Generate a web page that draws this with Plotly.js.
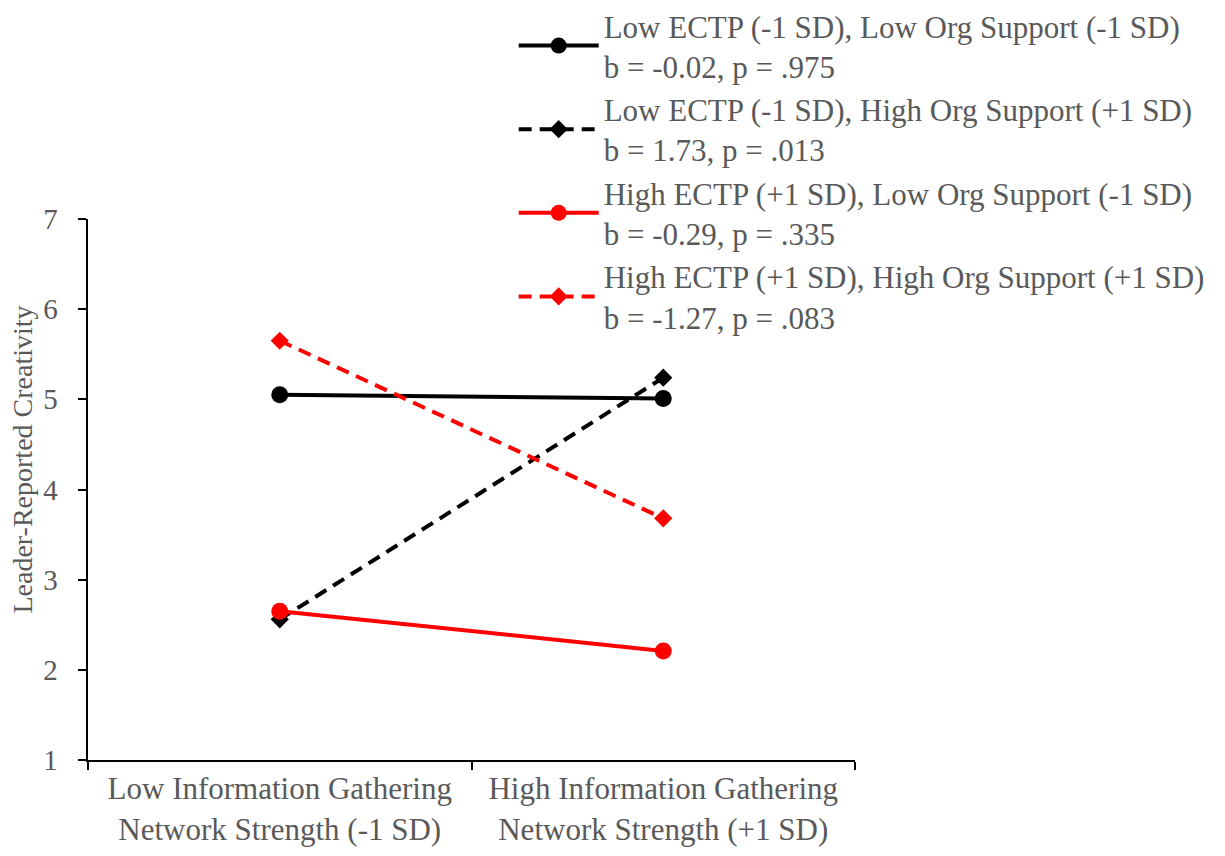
<!DOCTYPE html>
<html>
<head>
<meta charset="utf-8">
<script src="https://cdn.plot.ly/plotly-3.0.1.min.js"></script>
<style>
  html, body { margin: 0; padding: 0; background: #fff; }
  #chart { width: 1225px; height: 856px; }
</style>
</head>
<body>
<div id="chart"></div>
<script>
// Simple-slopes plot: creativity at low/high information-gathering network strength
const categories = [
  "Low Information Gathering<br>Network Strength (-1 SD)",
  "High Information Gathering<br>Network Strength (+1 SD)"
];

const lowEctpLowSupport = [5.05, 5.01];
const lowEctpHighSupport = [2.56, 5.24];
const highEctpLowSupport = [2.65, 2.21];
const highEctpHighSupport = [5.65, 3.68];

const seriesNames = [
  "Low ECTP (-1 SD), Low Org Support (-1 SD)<br>b = -0.02, p = .975",
  "Low ECTP (-1 SD), High Org Support (+1 SD)<br>b = 1.73, p = .013",
  "High ECTP (+1 SD), Low Org Support (-1 SD)<br>b = -0.29, p = .335",
  "High ECTP (+1 SD), High Org Support (+1 SD)<br>b = -1.27, p = .083"
];

const yTicks = [1, 2, 3, 4, 5, 6, 7];
const yTitle = "Leader-Reported Creativity";

const FONT = "Liberation Serif, Times New Roman, serif";
const GREY = "#595959";
const NBSP = "\u00a0";

function series(values, name, color, dashed) {
  return {
    type: "scatter",
    mode: "lines+markers",
    x: categories,
    y: values,
    name: name,
    line: { color: color, width: 4, dash: dashed ? "13px,8px" : "solid" },
    marker: {
      color: color,
      size: dashed ? 14 : 17,
      symbol: dashed ? "diamond" : "circle"
    },
    cliponaxis: false
  };
}

const traces = [
  series(lowEctpLowSupport, seriesNames[0], "#000000", false),
  series(lowEctpHighSupport, seriesNames[1], "#000000", true),
  series(highEctpLowSupport, seriesNames[2], "#FF0000", false),
  series(highEctpHighSupport, seriesNames[3], "#FF0000", true)
];

const layout = {
  width: 1225,
  height: 856,
  paper_bgcolor: "#ffffff",
  plot_bgcolor: "#ffffff",
  font: { family: FONT, size: 30, color: GREY },
  margin: { l: 88, r: 370, t: 219, b: 96, autoexpand: false },
  showlegend: true,
  legend: {
    x: 0.555,
    xanchor: "left",
    y: 1.407,
    yanchor: "top",
    itemwidth: 80,
    tracegroupgap: 0,
    bgcolor: "rgba(0,0,0,0)",
    font: { family: FONT, size: 31, color: GREY }
  },
  xaxis: {
    type: "category",
    range: [-0.5, 1.5],
    tickson: "boundaries",
    ticks: "outside",
    ticklen: 8,
    tickwidth: 2,
    tickcolor: "#000000",
    showline: true,
    linecolor: "#000000",
    linewidth: 2,
    showgrid: false,
    zeroline: false,
    fixedrange: true,
    tickfont: { family: FONT, size: 31, color: GREY }
  },
  yaxis: {
    range: [1, 7],
    tickvals: yTicks,
    ticktext: yTicks.map(v => String(v) + NBSP + NBSP),
    ticks: "outside",
    ticklen: 8,
    tickwidth: 2,
    tickcolor: "#000000",
    showline: true,
    linecolor: "#000000",
    linewidth: 2,
    showgrid: false,
    zeroline: false,
    fixedrange: true,
    tickfont: { family: FONT, size: 29, color: GREY }
  },
  annotations: [{
    text: yTitle,
    xref: "paper",
    yref: "paper",
    x: -0.085,
    y: 0.555,
    xanchor: "center",
    yanchor: "middle",
    textangle: -90,
    showarrow: false,
    font: { family: FONT, size: 28, color: GREY }
  }]
};

Plotly.newPlot("chart", traces, layout, { displayModeBar: false, staticPlot: true });
</script>
</body>
</html>
